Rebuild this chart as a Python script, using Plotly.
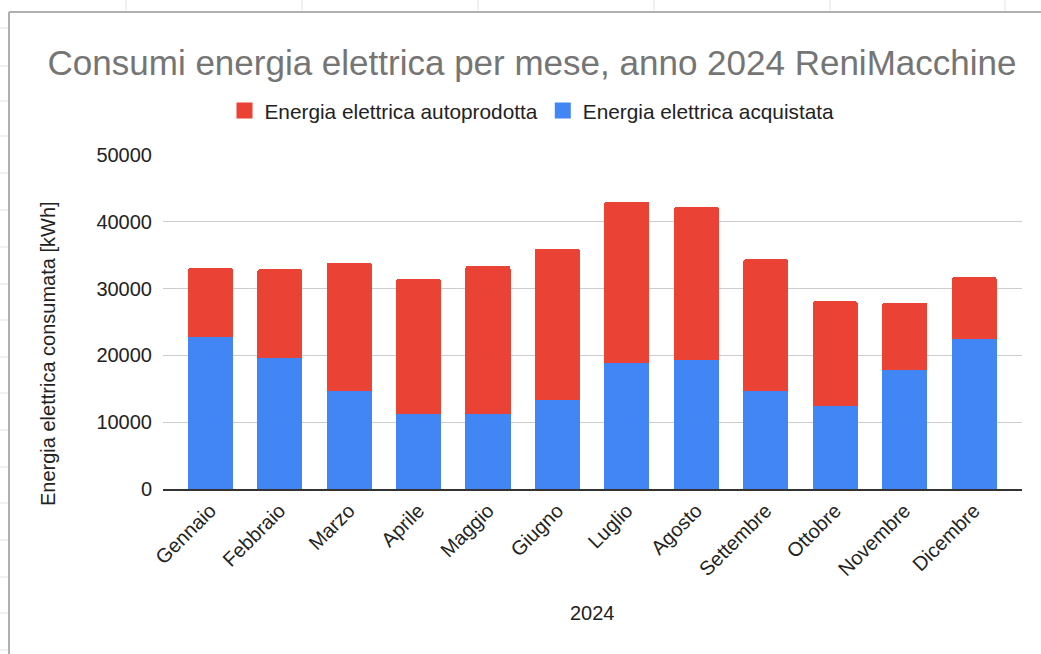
import plotly.graph_objects as go

months = ["Gennaio", "Febbraio", "Marzo", "Aprile", "Maggio", "Giugno",
          "Luglio", "Agosto", "Settembre", "Ottobre", "Novembre", "Dicembre"]
acquistata = [22700, 19600, 14600, 11200, 11200, 13300,
              18800, 19300, 14600, 12500, 17800, 22400]
autoprodotta = [10400, 13300, 19300, 20300, 22200, 22700,
                24200, 22950, 19800, 15600, 10100, 9350]
y_ticks = [0, 10000, 20000, 30000, 40000, 50000]

name_auto = "Energia elettrica autoprodotta"
name_acq = "Energia elettrica acquistata"
RED = "#EA4335"
BLUE = "#4285F4"
FONT = "Liberation Sans, Arial, sans-serif"

W, H = 1041, 654
L, R, T, B = 163, 1022, 155, 489

def px(xpix):
    return (xpix - L) / (R - L)

def py(ypix):
    return (B - ypix) / (B - T)

fig = go.Figure()
fig.add_trace(go.Bar(x=months, y=acquistata, name=name_acq, marker_color=BLUE,
                     marker_line_width=0, showlegend=False))
fig.add_trace(go.Bar(x=months, y=autoprodotta, name=name_auto, marker_color=RED,
                     marker_line_width=0, showlegend=False))
# legend entries with larger square symbols
fig.add_trace(go.Scatter(x=[None], y=[None], mode="markers", name=name_auto,
                         marker=dict(symbol="square", size=21, color=RED)))
fig.add_trace(go.Scatter(x=[None], y=[None], mode="markers", name=name_acq,
                         marker=dict(symbol="square", size=21, color=BLUE)))

shapes = []
line_col = "#b0b0b0"
# spreadsheet frame (screenshot border)
shapes.append(dict(type="line", xref="paper", yref="paper", x0=px(9), x1=px(9),
                   y0=py(12), y1=py(654), line=dict(color=line_col, width=2)))
shapes.append(dict(type="line", xref="paper", yref="paper", x0=px(9), x1=px(1041),
                   y0=py(12), y1=py(12), line=dict(color=line_col, width=2)))
for xt in [126, 302, 478, 654, 830, 1005]:
    shapes.append(dict(type="line", xref="paper", yref="paper", x0=px(xt), x1=px(xt),
                       y0=py(0), y1=py(11), line=dict(color="#e3e3e3", width=1)))
for yt in [28, 66, 101, 136, 173, 210, 247, 284, 320, 357, 393, 430, 467, 503, 540, 577, 613, 650]:
    shapes.append(dict(type="line", xref="paper", yref="paper", x0=px(0), x1=px(8),
                       y0=py(yt), y1=py(yt), line=dict(color="#e3e3e3", width=1)))

fig.update_layout(
    width=W, height=H,
    margin=dict(l=L, r=W - R, t=T, b=H - B, autoexpand=False),
    paper_bgcolor="white", plot_bgcolor="white",
    barmode="stack", bargap=0.35, barcornerradius=3,
    font=dict(family=FONT, size=20, color="#222222"),
    title=dict(text="Consumi energia elettrica per mese, anno 2024 ReniMacchine",
               x=532 / W, xanchor="center", y=1 - 63 / H, yanchor="middle",
               font=dict(family=FONT, size=35, color="#757575")),
    legend=dict(orientation="h", x=px(532), xanchor="center", y=py(111), yanchor="middle",
                font=dict(family=FONT, size=20.8, color="#222222"),
                itemsizing="trace", traceorder="normal", bgcolor="rgba(0,0,0,0)"),
    xaxis=dict(range=[-0.68, 11.69], showgrid=False, tickangle=-45,
               showline=True, linecolor="#333333", linewidth=2,
               tickfont=dict(family=FONT, size=20, color="#222222"),
               ticks="", fixedrange=True),
    yaxis=dict(range=[0, 50000], tickvals=y_ticks, tickformat="d", showgrid=True,
               gridcolor="#cccccc", gridwidth=1, zeroline=False, ticks="",
               ticklabelstandoff=10,
               tickfont=dict(family=FONT, size=20, color="#222222"), fixedrange=True),
    shapes=shapes,
    annotations=[
        dict(text="Energia elettrica consumata [kWh]", xref="paper", yref="paper",
             x=px(48), y=py(354), textangle=-90, showarrow=False,
             xanchor="center", yanchor="middle",
             font=dict(family=FONT, size=20, color="#222222")),
        dict(text="2024", xref="paper", yref="paper",
             x=px(592), y=py(613), showarrow=False, xanchor="center", yanchor="middle",
             font=dict(family=FONT, size=20, color="#222222")),
    ],
)

fig.write_html("out.html", config={"displayModeBar": False},
               post_script="document.body.style.margin='0px';")
